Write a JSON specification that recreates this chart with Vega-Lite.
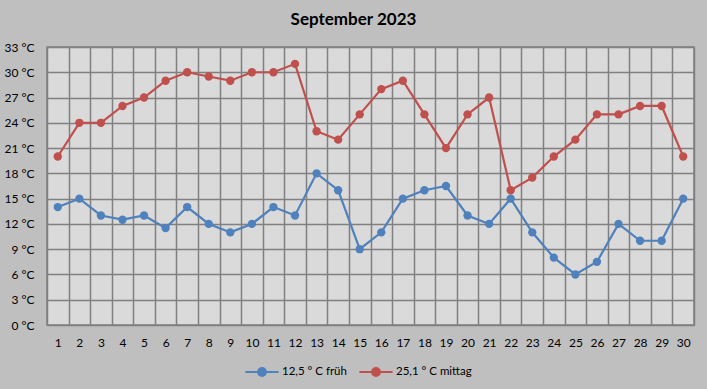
{
  "$schema": "https://vega.github.io/schema/vega-lite/v6.json",
  "width": 647,
  "height": 278,
  "autosize": {"type": "none"},
  "padding": {"left": 47, "top": 47, "right": 13, "bottom": 64},
  "background": "#bfbfbf",
  "title": {"text": "September 2023", "font": "Lato", "fontSize": 17, "fontWeight": "bold", "color": "#000000", "anchor": "middle", "dx": -17, "offset": 12},
  "config": {
    "view": {"fill": "#dadada", "stroke": "#808080", "strokeWidth": 1.5},
    "axis": {"labelFont": "Lato", "labelFontSize": 12, "labelColor": "#000000", "gridColor": "#808080", "gridWidth": 1.5, "gridOpacity": 1, "domain": false, "ticks": false, "title": null}
  },
  "data": {"values": [
    {"day": 1, "s": "12,5 ° C früh", "t": 14}, {"day": 2, "s": "12,5 ° C früh", "t": 15}, {"day": 3, "s": "12,5 ° C früh", "t": 13}, {"day": 4, "s": "12,5 ° C früh", "t": 12.5}, {"day": 5, "s": "12,5 ° C früh", "t": 13},
    {"day": 6, "s": "12,5 ° C früh", "t": 11.5}, {"day": 7, "s": "12,5 ° C früh", "t": 14}, {"day": 8, "s": "12,5 ° C früh", "t": 12}, {"day": 9, "s": "12,5 ° C früh", "t": 11}, {"day": 10, "s": "12,5 ° C früh", "t": 12},
    {"day": 11, "s": "12,5 ° C früh", "t": 14}, {"day": 12, "s": "12,5 ° C früh", "t": 13}, {"day": 13, "s": "12,5 ° C früh", "t": 18}, {"day": 14, "s": "12,5 ° C früh", "t": 16}, {"day": 15, "s": "12,5 ° C früh", "t": 9},
    {"day": 16, "s": "12,5 ° C früh", "t": 11}, {"day": 17, "s": "12,5 ° C früh", "t": 15}, {"day": 18, "s": "12,5 ° C früh", "t": 16}, {"day": 19, "s": "12,5 ° C früh", "t": 16.5}, {"day": 20, "s": "12,5 ° C früh", "t": 13},
    {"day": 21, "s": "12,5 ° C früh", "t": 12}, {"day": 22, "s": "12,5 ° C früh", "t": 15}, {"day": 23, "s": "12,5 ° C früh", "t": 11}, {"day": 24, "s": "12,5 ° C früh", "t": 8}, {"day": 25, "s": "12,5 ° C früh", "t": 6},
    {"day": 26, "s": "12,5 ° C früh", "t": 7.5}, {"day": 27, "s": "12,5 ° C früh", "t": 12}, {"day": 28, "s": "12,5 ° C früh", "t": 10}, {"day": 29, "s": "12,5 ° C früh", "t": 10}, {"day": 30, "s": "12,5 ° C früh", "t": 15},
    {"day": 1, "s": "25,1 ° C mittag", "t": 20}, {"day": 2, "s": "25,1 ° C mittag", "t": 24}, {"day": 3, "s": "25,1 ° C mittag", "t": 24}, {"day": 4, "s": "25,1 ° C mittag", "t": 26}, {"day": 5, "s": "25,1 ° C mittag", "t": 27},
    {"day": 6, "s": "25,1 ° C mittag", "t": 29}, {"day": 7, "s": "25,1 ° C mittag", "t": 30}, {"day": 8, "s": "25,1 ° C mittag", "t": 29.5}, {"day": 9, "s": "25,1 ° C mittag", "t": 29}, {"day": 10, "s": "25,1 ° C mittag", "t": 30},
    {"day": 11, "s": "25,1 ° C mittag", "t": 30}, {"day": 12, "s": "25,1 ° C mittag", "t": 31}, {"day": 13, "s": "25,1 ° C mittag", "t": 23}, {"day": 14, "s": "25,1 ° C mittag", "t": 22}, {"day": 15, "s": "25,1 ° C mittag", "t": 25},
    {"day": 16, "s": "25,1 ° C mittag", "t": 28}, {"day": 17, "s": "25,1 ° C mittag", "t": 29}, {"day": 18, "s": "25,1 ° C mittag", "t": 25}, {"day": 19, "s": "25,1 ° C mittag", "t": 21}, {"day": 20, "s": "25,1 ° C mittag", "t": 25},
    {"day": 21, "s": "25,1 ° C mittag", "t": 27}, {"day": 22, "s": "25,1 ° C mittag", "t": 16}, {"day": 23, "s": "25,1 ° C mittag", "t": 17.5}, {"day": 24, "s": "25,1 ° C mittag", "t": 20}, {"day": 25, "s": "25,1 ° C mittag", "t": 22},
    {"day": 26, "s": "25,1 ° C mittag", "t": 25}, {"day": 27, "s": "25,1 ° C mittag", "t": 25}, {"day": 28, "s": "25,1 ° C mittag", "t": 26}, {"day": 29, "s": "25,1 ° C mittag", "t": 26}, {"day": 30, "s": "25,1 ° C mittag", "t": 20}
  ]},
  "encoding": {
    "x": {"field": "day", "type": "ordinal", "scale": {"paddingInner": 0, "paddingOuter": 0}, "axis": {"labelAngle": 0, "grid": true, "tickBand": "extent", "labelPadding": 12}},
    "y": {"field": "t", "type": "quantitative", "scale": {"domain": [0, 33], "nice": false}, "axis": {"values": [0, 3, 6, 9, 12, 15, 18, 21, 24, 27, 30, 33], "labelExpr": "datum.value + ' °C'", "labelPadding": 13}},
    "color": {"field": "s", "type": "nominal", "scale": {"domain": ["12,5 ° C früh", "25,1 ° C mittag"], "range": ["#4f81bd", "#c0504d"]},
      "legend": {"title": null, "orient": "none", "direction": "horizontal", "legendX": 197, "legendY": 307, "labelFont": "Lato", "labelFontSize": 11.5, "labelColor": "#000000", "symbolType": "M-1,0L1,0M-0.24,0a0.24,0.24 0 1,0 0.48,0a0.24,0.24 0 1,0 -0.48,0", "symbolSize": 1100, "symbolStrokeWidth": 2, "columnPadding": 8, "labelOffset": 2}}
  },
  "layer": [
    {"mark": {"type": "line", "strokeWidth": 2.2}},
    {"mark": {"type": "point", "filled": true, "opacity": 1, "size": 70}}
  ]
}
